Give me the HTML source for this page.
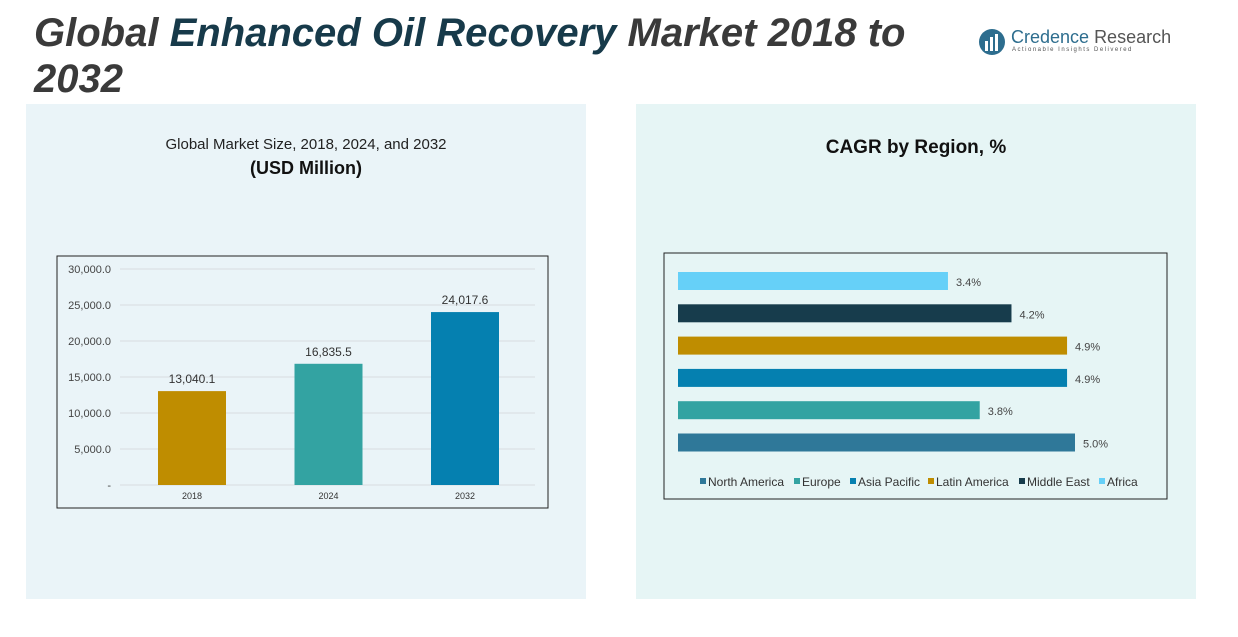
<!DOCTYPE html>
<html><head><meta charset="utf-8"><style>
body{margin:0;width:1238px;height:637px;background:#fff;font-family:"Liberation Sans",sans-serif;position:relative;overflow:hidden}
.abs{position:absolute}
</style></head><body>
<div class="abs" style="left:26px;top:104px;width:560px;height:495px;background:#eaf4f8"></div>
<div class="abs" style="left:636px;top:104px;width:560px;height:495px;background:#e6f5f5"></div>
<div class="abs" style="left:34px;top:10px;width:900px;font-size:40px;font-weight:bold;font-style:italic;line-height:46px;color:#3a3a3a">Global <span style="color:#173a4a">Enhanced Oil Recovery</span> Market 2018 to 2032</div>
<div class="abs" style="left:978px;top:27px">
<svg width="30" height="30"><circle cx="14" cy="15" r="13" fill="#2d6d8e"/><rect x="7" y="14" width="3" height="10" fill="#fff"/><rect x="12" y="10" width="3" height="14" fill="#fff"/><rect x="17" y="7" width="3" height="17" fill="#fff"/></svg>
<div class="abs" style="left:33px;top:0;font-size:18px;color:#2d6d8e;white-space:nowrap">Credence <span style="color:#555">Research</span></div>
<div class="abs" style="left:34px;top:20px;font-size:6px;letter-spacing:1.5px;color:#555;white-space:nowrap">Actionable Insights Delivered</div>
</div>
<div class="abs" style="left:26px;width:560px;top:136px;text-align:center;font-size:15px;color:#222">Global Market Size, 2018, 2024, and 2032</div>
<div class="abs" style="left:26px;width:560px;top:158px;text-align:center;font-size:18px;font-weight:bold;color:#111">(USD Million)</div>
<div class="abs" style="left:636px;width:560px;top:137px;text-align:center;font-size:19px;font-weight:bold;color:#111">CAGR by Region, %</div>
<svg id="bar" class="abs" style="left:0;top:0" width="1238" height="637"></svg>
<script>
const years=["2018","2024","2032"];
const sizes=[13040.1,16835.5,24017.6];
const sizeLabels=["13,040.1","16,835.5","24,017.6"];
const yTicks=[0,5000,10000,15000,20000,25000,30000];
const yTickLabels=["-","5,000.0","10,000.0","15,000.0","20,000.0","25,000.0","30,000.0"];
const barColors=["#bf8d00","#33a3a2","#0580b0"];
const regions=["Africa","Middle East","Latin America","Asia Pacific","Europe","North America"];
const cagr=[3.4,4.2,4.9,4.9,3.8,5.0];
const cagrLabels=["3.4%","4.2%","4.9%","4.9%","3.8%","5.0%"];
const regColors=["#66d0f8","#173c4c","#bf8d00","#0580b0","#33a3a2","#2f7899"];
const legendOrder=["North America","Europe","Asia Pacific","Latin America","Middle East","Africa"];
const legendColors=["#2f7899","#33a3a2","#0580b0","#bf8d00","#173c4c","#66d0f8"];
const NS="http://www.w3.org/2000/svg";
const svg=document.getElementById('bar');
function mk(t,a,txt){const e=document.createElementNS(NS,t);for(const k in a)e.setAttribute(k,a[k]);if(txt!==undefined)e.textContent=txt;svg.appendChild(e);return e;}
let e=mk('rect',{x:57,y:256,width:491,height:252,fill:'none',stroke:'#222','stroke-width':1});


const y=v=>485-v/30000*216;
yTicks.forEach((t,i)=>{
 let g=mk('line',{x1:120,x2:535,y1:y(t),y2:y(t),stroke:'#d8dde0','stroke-width':1});
 
 
 let l=mk('text',{x:111,y:y(t)+4,'text-anchor':'end','font-size':11,fill:'#444'},yTickLabels[i]);
 
 
});
const bx=i=>192+i*136.5;
years.forEach((yr,i)=>{
 let r=mk('rect',{x:bx(i)-34,y:y(sizes[i]),width:68,height:485-y(sizes[i]),fill:barColors[i]});
 
 
 let v=mk('text',{x:bx(i),y:y(sizes[i])-8,'text-anchor':'middle','font-size':12,fill:'#333'},sizeLabels[i]);
 
 
 let c=mk('text',{x:bx(i),y:499,'text-anchor':'middle','font-size':9,fill:'#333'},yr);
 
 
});
e=mk('rect',{x:664,y:253,width:503,height:246,fill:'none',stroke:'#222','stroke-width':1});


const xs=v=>678+v*79.4;
regions.forEach((r,i)=>{
 const cy=281+i*32.3;
 let b=mk('rect',{x:678,y:cy-9,width:xs(cagr[i])-678,height:18,fill:regColors[i]});
 
 
 let t=mk('text',{x:xs(cagr[i])+8,y:cy+5,'font-size':11,fill:'#444'},cagrLabels[i]);
 
 
});
const lx=[700,794,850,928,1019,1099];
legendOrder.forEach((n,i)=>{
 let s=mk('rect',{x:lx[i],y:478,width:6,height:6,fill:legendColors[i]});
 
 
 let t=mk('text',{x:lx[i]+8,y:486,'font-size':12,fill:'#333'},n);
 
 
});
</script>
</body></html>
